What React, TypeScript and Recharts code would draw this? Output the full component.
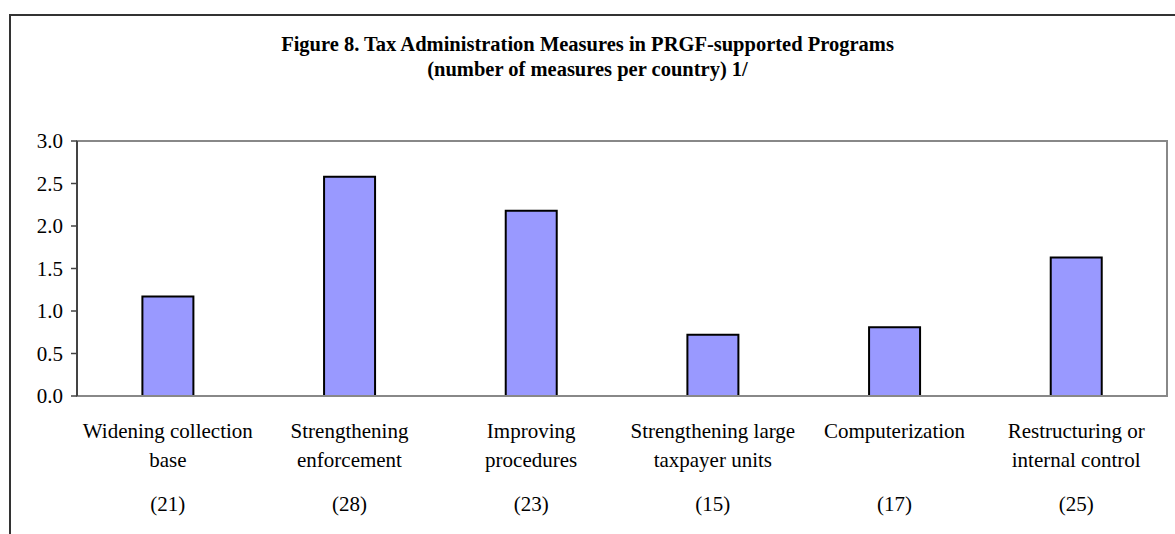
import { BarChart, Bar, XAxis, YAxis, ReferenceArea } from "recharts";

// Libellés des catégories (deux lignes) et nombre de pays entre parenthèses
const labelTop = [
  "Widening collection",
  "Strengthening",
  "Improving",
  "Strengthening large",
  "Computerization",
  "Restructuring or",
];
const labelBottom = ["base", "enforcement", "procedures", "taxpayer units", "", "internal control"];
const countries = [21, 28, 23, 15, 17, 25];
const measures = [1.17, 2.58, 2.18, 0.72, 0.81, 1.63];
const yTicks = [0, 0.5, 1, 1.5, 2, 2.5, 3];

const data = labelTop.map((name, i) => ({ name, value: measures[i] }));

const SERIF = "Liberation Serif, Times New Roman, serif";
const BAR_FILL = "#9999ff";
const FRAME = "#888888";

function CategoryTick(props: any) {
  const { x, y, payload } = props;
  const i = props.index ?? payload?.index ?? 0;
  const common = {
    x,
    textAnchor: "middle" as const,
    fontFamily: SERIF,
    fontSize: 21,
    fill: "#000",
  };
  return (
    <g>
      <text {...common} y={y + 42}>
        {labelTop[i]}
      </text>
      <text {...common} y={y + 71}>
        {labelBottom[i]}
      </text>
      <text {...common} y={y + 115}>
        ({countries[i]})
      </text>
    </g>
  );
}

export default function App() {
  return (
    <div style={{ position: "absolute", left: 0, top: 0, width: 1175, height: 534, background: "#fff" }}>
      <svg width={1175} height={534} style={{ position: "absolute", left: 0, top: 0 }}>
        <path d="M10 534 L10 15 L1175 15" fill="none" stroke="#333" strokeWidth={2} />
        <text x={587.5} y={51} textAnchor="middle" fontFamily={SERIF} fontWeight="bold" fontSize={20.5} fill="#000">
          Figure 8. Tax Administration Measures in PRGF-supported Programs
        </text>
        <text x={587.5} y={76} textAnchor="middle" fontFamily={SERIF} fontWeight="bold" fontSize={20.5} fill="#000">
          (number of measures per country) 1/
        </text>
      </svg>
      <div style={{ position: "absolute", left: 0, top: 0 }}>
        <BarChart
          width={1175}
          height={534}
          data={data}
          margin={{ top: 141, right: 8, bottom: 38, left: 17 }}
          barCategoryGap="36%"
        >
          {/* cadre gris de la zone de tracé */}
          <ReferenceArea y1={0} y2={3} fill="none" stroke={FRAME} strokeWidth={2} fillOpacity={0} strokeOpacity={1} />
          <XAxis
            dataKey="name"
            height={100}
            interval={0}
            tickSize={0}
            tickMargin={0}
            tickLine={false}
            axisLine={{ stroke: FRAME, strokeWidth: 2 }}
            tick={<CategoryTick />}
          />
          <YAxis
            domain={[0, 3]}
            ticks={yTicks}
            interval={0}
            width={60}
            tickSize={6}
            tickMargin={8}
            tickFormatter={(v: number) => v.toFixed(1)}
            tick={{ fontFamily: SERIF, fontSize: 21, fill: "#000" }}
            tickLine={{ stroke: "#444", strokeWidth: 1.5 }}
            axisLine={{ stroke: "#444", strokeWidth: 2 }}
          />
          <Bar dataKey="value" fill={BAR_FILL} stroke="#000" strokeWidth={2} isAnimationActive={false} />
        </BarChart>
      </div>
    </div>
  );
}
